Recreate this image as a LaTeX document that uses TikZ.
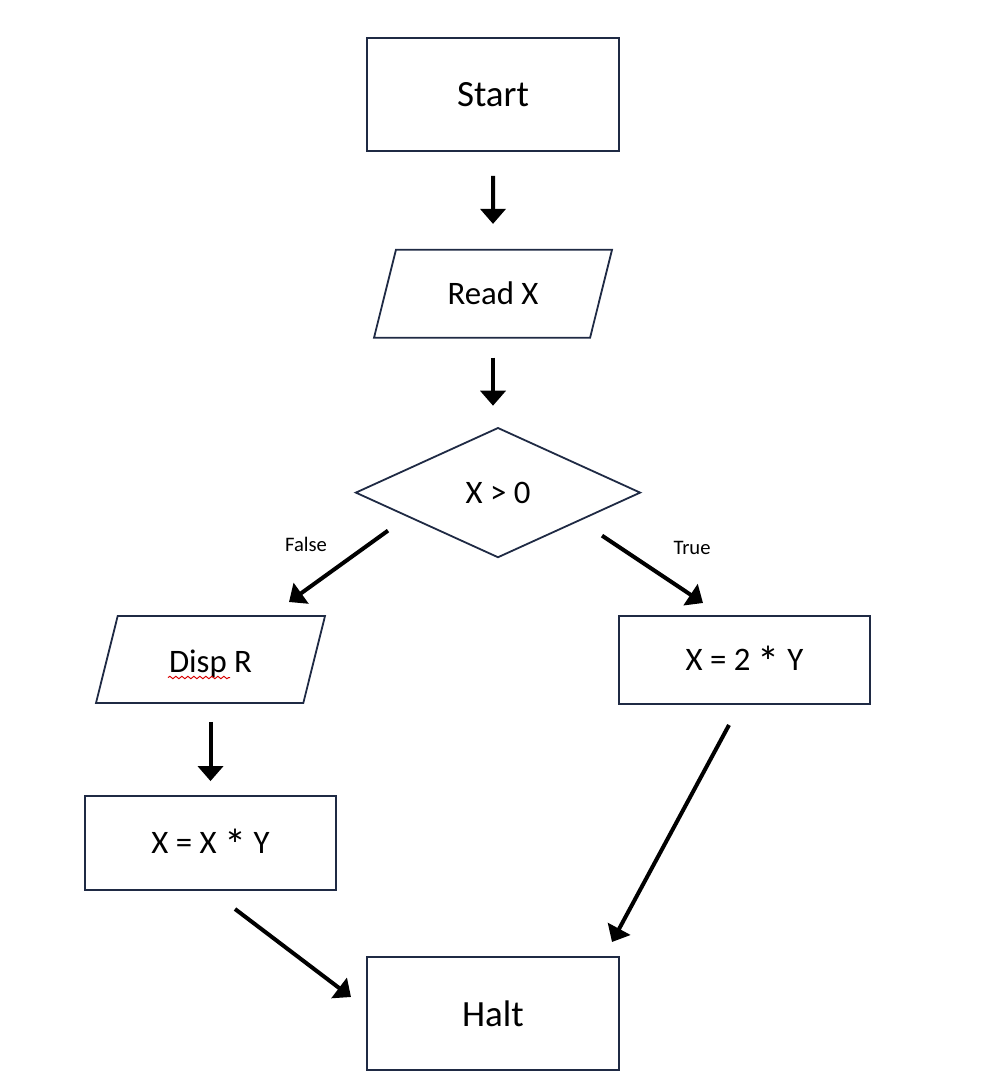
\documentclass[tikz,border=0pt]{standalone}
\usepackage{fontspec}
\setmainfont{Carlito}
\usepackage{tikz}
\usetikzlibrary{arrows.meta,positioning,shapes.geometric,decorations.pathmorphing}
\definecolor{boxline}{RGB}{31,42,68}
\newcommand{\mul}{\raisebox{-3.4pt}{\scalebox{1.35}{*}}}
\begin{document}
\begin{tikzpicture}[x=1pt,y=1pt,
  box/.style={rectangle,draw=boxline,line width=0.9pt,minimum width=126pt,minimum height=56.5pt,inner sep=0pt,font=\fontsize{18.5}{22}\selectfont},
  op node/.style={box,minimum width=125.5pt,minimum height=44pt,text height=10.6pt,text depth=0pt,font=\fontsize{16.4}{20}\selectfont},
  io node/.style={trapezium,trapezium left angle=76,trapezium right angle=104,trapezium stretches body,draw=boxline,line width=0.9pt,
    inner xsep=0pt,inner ysep=14pt,text height=13.3pt,text depth=2.7pt,font=\fontsize{16.4}{20}\selectfont},
  test node/.style={diamond,draw=boxline,line width=0.9pt,inner sep=0pt,minimum width=142.5pt,minimum height=65pt,font=\fontsize{16.4}{20}\selectfont},
  lbl/.style={inner sep=0pt,font=\fontsize{10.3}{12}\selectfont},
  arr/.style={draw=black,line width=2pt,-{Triangle[width=12.5pt,length=7.5pt]}}]
    \useasboundingbox (0,0) rectangle (497,-545);
    \node[box](start) at (246.5,-47.25){Start};
    \node[io node,minimum width=119pt,below=48.5pt of start](read){Read X};
    \node[test node,below=44pt of read,xshift=2.5pt](dec){X > 0};
    \node[io node,minimum width=114.5pt,inner ysep=13.25pt,text height=15pt,text depth=2pt](disp) at (105.25,-329.75){Disp R};
    \node[op node](twoy) at (372.25,-330){X = 2 \mul{} Y};
    \node[op node,minimum height=47pt](xy) at (105.25,-421.5){X = X \mul{} Y};
    \node[box](halt) at (246.5,-506.75){Halt};
    \node[lbl](false) at (153,-272){False};
    \node[lbl](true) at (346,-274){True};
    % spell-check mark under Disp
    \draw[red!85!black,line width=0.5pt,decorate,decoration={snake,amplitude=0.6pt,segment length=3pt}]
      ([shift={(-21.25,-9)}]disp.center) -- ([shift={(9.75,-9)}]disp.center);
    \draw[arr,shorten <=12pt,shorten >=12.5pt] (start) -- (read);
    \draw[arr,shorten <=9.5pt,shorten >=10.5pt] (read.south) -- (read.south |- dec.north);
    \draw[arr] ([shift={(-55,-19)}]dec.center) -- ([shift={(39.25,28.75)}]disp.center);
    \draw[arr] ([shift={(52,-21.5)}]dec.center) -- ([shift={(-20.75,28.5)}]twoy.center);
    \draw[arr,shorten <=9pt,shorten >=7pt] (disp.south) -- (disp.south |- xy.north);
    \draw[arr] ([shift={(12.25,-33)}]xy.center) -- ([shift={(-71,8.25)}]halt.center);
    \draw[arr] ([shift={(-7.75,-32.5)}]twoy.center) -- ([shift={(59.5,35.75)}]halt.center);
\end{tikzpicture}
\end{document}
